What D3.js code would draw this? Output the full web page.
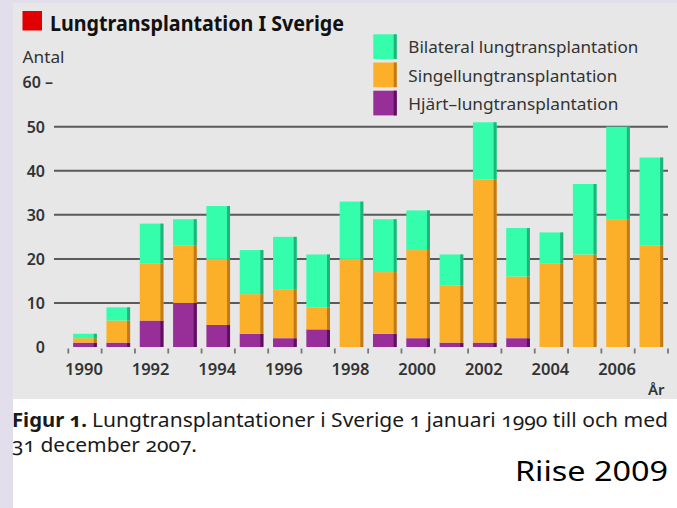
<!DOCTYPE html>
<html>
<head>
<meta charset="utf-8">
<script src="https://cdn.jsdelivr.net/npm/d3@7.9.0/dist/d3.min.js"></script>
<style>
  html, body { margin: 0; padding: 0; background: #fff; }
  svg { display: block; }
  text { font-family: 'Noto Sans', 'Open Sans', sans-serif; }
</style>
</head>
<body>
<svg id="chart" width="677" height="508"></svg>
<script>
const years = [1990, 1991, 1992, 1993, 1994, 1995, 1996, 1997, 1998,
  1999, 2000, 2001, 2002, 2003, 2004, 2005, 2006, 2007];
const hjartLunga = [1, 1, 6, 10, 5, 3, 2, 4, 0, 3, 2, 1, 1, 2, 0, 0, 0, 0];
const singel = [1, 5, 13, 13, 15, 9, 11, 5, 20, 14, 20, 13, 37, 14, 19, 21, 29, 23];
const bilateral = [1, 3, 9, 6, 12, 10, 12, 12, 13, 12, 9, 7, 13, 11, 7, 16, 21, 20];

const yTicks = [0, 10, 20, 30, 40, 50];
const yearLabels = [1990, 1992, 1994, 1996, 1998, 2000, 2002, 2004, 2006];

const series = [
  { key: 'hjart', label: 'Hjärt–lungtransplantation', fill: '#982e98', edge: '#5f0f60' },
  { key: 'singel', label: 'Singellungtransplantation', fill: '#fcb02a', edge: '#c27a16' },
  { key: 'bilateral', label: 'Bilateral lungtransplantation', fill: '#34fdab', edge: '#1eb47a' },
];
const legendWidths = { bilateral: 230, singel: 209, hjart: 210 };

const rows = years.map((year, i) => ({
  year,
  hjart: hjartLunga[i],
  singel: singel[i],
  bilateral: bilateral[i],
}));

const svg = d3.select('#chart');

// background: lavender frame strip + grey panel
svg.append('rect').attr('width', 677).attr('height', 508).attr('fill', '#fff');
svg.append('rect').attr('x', 0).attr('y', 0).attr('width', 677).attr('height', 399).attr('fill', '#e3deeb');
svg.append('rect').attr('x', 0).attr('y', 0).attr('width', 13).attr('height', 508).attr('fill', '#e3deeb');
svg.append('rect').attr('x', 13).attr('y', 3).attr('width', 664).attr('height', 396).attr('fill', '#e7e7e7');

const x = d3.scaleBand()
  .domain(years)
  .range([68.3, 668])
  .paddingInner(0.29)
  .paddingOuter(0.145);

const y = d3.scaleLinear().domain([0, 50]).range([347, 126.7]);

// gridlines
svg.append('g')
  .selectAll('line')
  .data(yTicks.filter((d) => d > 0))
  .join('line')
  .attr('x1', 54)
  .attr('x2', 668)
  .attr('y1', (d) => y(d))
  .attr('y2', (d) => y(d))
  .attr('stroke', '#5a5a5a')
  .attr('stroke-width', 2);

// y labels
const yAxis = svg.append('g')
  .attr('transform', 'translate(45,0)')
  .call(d3.axisLeft(y).tickValues(yTicks).tickSize(0).tickPadding(0));
yAxis.select('.domain').remove();
yAxis.selectAll('text')
  .attr('font-size', 16)
  .attr('font-weight', 600)
  .attr('fill', '#333')
  .attr('dy', '0.36em');

svg.append('text')
  .attr('x', 22.5)
  .attr('y', y(60) + 5.5)
  .attr('font-size', 16)
  .attr('font-weight', 600)
  .attr('fill', '#333')
  .text('60 –');

svg.append('text')
  .attr('x', 22.5)
  .attr('y', 62.5)
  .attr('font-size', 16)
  .attr('fill', '#333')
  .attr('textLength', 42)
  .attr('lengthAdjust', 'spacingAndGlyphs')
  .text('Antal');

// stacked bars
const stack = d3.stack().keys(series.map((s) => s.key));
const stacked = stack(rows);

const layers = svg.append('g')
  .selectAll('g')
  .data(stacked)
  .join('g');

const edgeW = 3;
layers.each(function (layer, li) {
  const s = series[li];
  const g = d3.select(this);
  const segs = layer.filter((d) => d[1] > d[0]);
  g.selectAll('rect.main')
    .data(segs)
    .join('rect')
    .attr('class', 'main')
    .attr('x', (d) => x(d.data.year))
    .attr('y', (d) => y(d[1]))
    .attr('width', x.bandwidth())
    .attr('height', (d) => y(d[0]) - y(d[1]))
    .attr('fill', s.fill);
  g.selectAll('rect.edge')
    .data(segs)
    .join('rect')
    .attr('class', 'edge')
    .attr('x', (d) => x(d.data.year) + x.bandwidth() - edgeW)
    .attr('y', (d) => y(d[1]))
    .attr('width', edgeW)
    .attr('height', (d) => y(d[0]) - y(d[1]))
    .attr('fill', s.edge);
});

// x ticks at band boundaries
const tickXs = years.map((yr) => x(yr) - x.step() * x.paddingOuter());
tickXs.push(x.range()[1]);
svg.append('g')
  .selectAll('line')
  .data(tickXs)
  .join('line')
  .attr('x1', (d) => d)
  .attr('x2', (d) => d)
  .attr('y1', 348.5)
  .attr('y2', 353.5)
  .attr('stroke', '#777')
  .attr('stroke-width', 1.8);

svg.append('g')
  .selectAll('text')
  .data(yearLabels)
  .join('text')
  .attr('x', (d) => x(d) + x.bandwidth() / 2 - 1)
  .attr('y', 374.5)
  .attr('text-anchor', 'middle')
  .attr('font-size', 16.5)
  .attr('font-weight', 600)
  .attr('fill', '#333')
  .text((d) => d);

svg.append('text')
  .attr('x', 648)
  .attr('y', 395)
  .attr('font-size', 15)
  .attr('font-weight', 600)
  .attr('fill', '#333')
  .text('År');

// title
svg.append('rect')
  .attr('x', 22.5).attr('y', 11).attr('width', 19.5).attr('height', 19.5)
  .attr('fill', '#e00000');
svg.append('text')
  .attr('x', 50)
  .attr('y', 30.5)
  .attr('font-size', 21.5)
  .attr('font-weight', 700)
  .attr('fill', '#111')
  .attr('textLength', 294)
  .attr('lengthAdjust', 'spacingAndGlyphs')
  .text('Lungtransplantation I Sverige');

// legend
const legendOrder = ['bilateral', 'singel', 'hjart'];
const legend = svg.append('g')
  .selectAll('g')
  .data(legendOrder.map((k) => series.find((s) => s.key === k)))
  .join('g')
  .attr('transform', (d, i) => `translate(373.3,${34.3 + i * 28.2})`);
legend.append('rect').attr('width', 23.4).attr('height', 24.7).attr('fill', (d) => d.fill);
legend.append('rect').attr('x', 20.4).attr('width', 3).attr('height', 24.7).attr('fill', (d) => d.edge);
legend.append('text')
  .attr('x', 35)
  .attr('y', 19)
  .attr('font-size', 16.5)
  .attr('fill', '#333')
  .attr('textLength', (d) => legendWidths[d.key])
  .attr('lengthAdjust', 'spacingAndGlyphs')
  .text((d) => d.label);

// caption
const captionLines = [
  { x: 12, y: 427, w: 75, bold: true, text: 'Figur 1.' },
  { x: 92, y: 427, w: 576, bold: false, text: 'Lungtransplantationer i Sverige 1 januari 1990 till och med' },
  { x: 12, y: 452, w: 185, bold: false, text: '31 december 2007.' },
];
svg.append('g')
  .selectAll('text')
  .data(captionLines)
  .join('text')
  .attr('x', (d) => d.x)
  .attr('y', (d) => d.y)
  .attr('font-size', 20)
  .attr('font-weight', (d) => (d.bold ? 700 : 400))
  .attr('fill', '#1a1a1a')
  .attr('textLength', (d) => d.w)
  .attr('lengthAdjust', 'spacingAndGlyphs')
  .style('font-variant-numeric', 'oldstyle-nums')
  .text((d) => d.text);

svg.append('text')
  .attr('x', 515)
  .attr('y', 480.5)
  .attr('font-size', 27)
  .attr('fill', '#000')
  .attr('textLength', 153)
  .attr('lengthAdjust', 'spacingAndGlyphs')
  .text('Riise 2009');
</script>
</body>
</html>
